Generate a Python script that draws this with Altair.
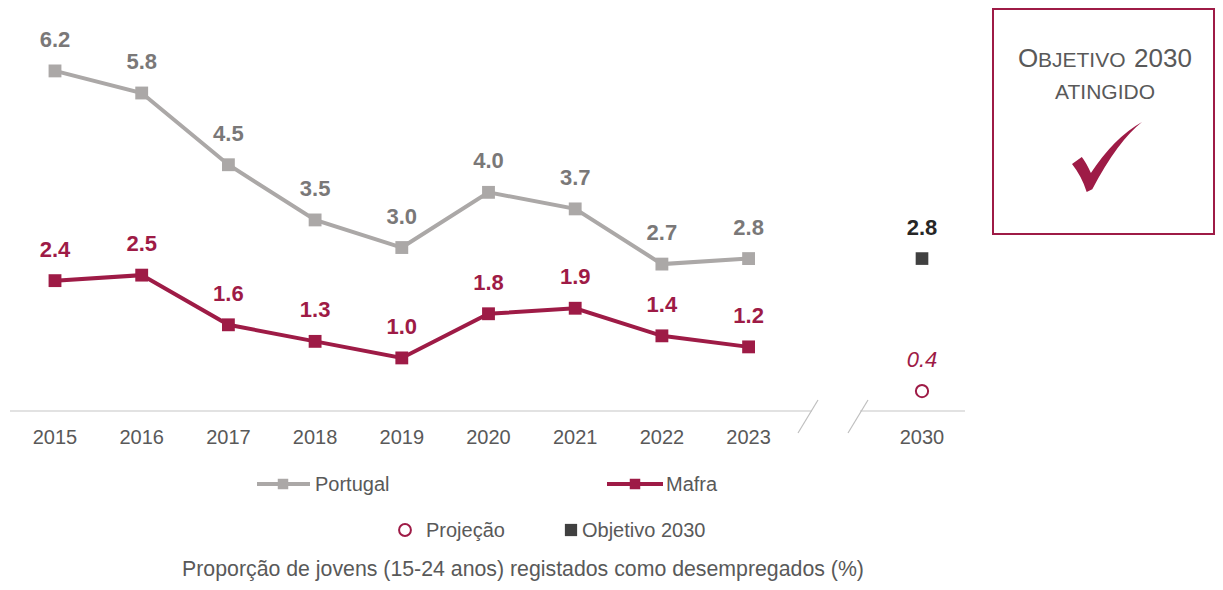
import altair as alt
import pandas as pd

# ---- data ----
years = ["2015", "2016", "2017", "2018", "2019", "2020", "2021", "2022", "2023"]
portugal = [6.2, 5.8, 4.5, 3.5, 3.0, 4.0, 3.7, 2.7, 2.8]
mafra = [2.4, 2.5, 1.6, 1.3, 1.0, 1.8, 1.9, 1.4, 1.2]
target_year = "2030"
projecao = [0.4]
objetivo = [2.8]
gap_slot = " "

FONT = "Liberation Sans"
GREY_LINE = "#ABA8A7"
GREY_LABEL = "#7A7878"
MAFRA = "#9E1B46"
TEXT = "#595959"
DARK = "#404040"

domain = years + [gap_slot, target_year]
xscale = alt.Scale(type="point", domain=domain, range=[47, 914], padding=0)
yscale = alt.Scale(domain=[-3.06, 7.34], nice=False, zero=False)

df_pt = pd.DataFrame({"year": years, "v": portugal})
df_mf = pd.DataFrame({"year": years, "v": mafra})
df_proj = pd.DataFrame({"year": [target_year], "v": projecao})
df_obj = pd.DataFrame({"year": [target_year], "v": objetivo})
df_years = pd.DataFrame({"year": years + [target_year]})

X = alt.X("year:N", scale=xscale, axis=None)
Y = alt.Y("v:Q", scale=yscale, axis=None)

LBL = 22

pt_line = alt.Chart(df_pt).mark_line(color=GREY_LINE, strokeWidth=4).encode(x=X, y=Y)
pt_pts = alt.Chart(df_pt).mark_point(shape="square", filled=True, opacity=1, color=GREY_LINE, size=165).encode(x=X, y=Y)
pt_lbl = alt.Chart(df_pt).mark_text(font=FONT, fontSize=LBL, fontWeight="bold", color=GREY_LABEL, dy=-31).encode(
    x=X, y=Y, text=alt.Text("v:Q", format=".1f"))

mf_line = alt.Chart(df_mf).mark_line(color=MAFRA, strokeWidth=4).encode(x=X, y=Y)
mf_pts = alt.Chart(df_mf).mark_point(shape="square", filled=True, opacity=1, color=MAFRA, size=165).encode(x=X, y=Y)
mf_lbl = alt.Chart(df_mf).mark_text(font=FONT, fontSize=LBL, fontWeight="bold", color=MAFRA, dy=-31).encode(
    x=X, y=Y, text=alt.Text("v:Q", format=".1f"))

proj_pt = alt.Chart(df_proj).mark_point(shape="circle", filled=False, color=MAFRA, strokeWidth=2, size=150, opacity=1).encode(x=X, y=Y)
proj_lbl = alt.Chart(df_proj).mark_text(font=FONT, fontSize=LBL, fontStyle="italic", color=MAFRA, dy=-31).encode(
    x=X, y=Y, text=alt.Text("v:Q", format=".1f"))

obj_pt = alt.Chart(df_obj).mark_point(shape="square", filled=True, color=DARK, size=160, opacity=1).encode(x=X, y=Y)
obj_lbl = alt.Chart(df_obj).mark_text(font=FONT, fontSize=LBL, fontWeight="bold", color="#262626", dy=-31).encode(
    x=X, y=Y, text=alt.Text("v:Q", format=".1f"))

year_lbl = alt.Chart(df_years).mark_text(font=FONT, fontSize=20, color=TEXT, baseline="middle").encode(
    x=X, y=alt.value(430), text="year:N")

one = pd.DataFrame({"k": [0]})
base = alt.Chart(one)

def rule(x1, y1, x2, y2, color, w):
    return base.mark_rule(color=color, strokeWidth=w).encode(
        x=alt.value(x1), y=alt.value(y1), x2=alt.value(x2), y2=alt.value(y2))

def txt(s, x, y, size, color=TEXT, align="left", baseline="middle", weight="normal"):
    return base.mark_text(text=s, font=FONT, fontSize=size, color=color, align=align,
                          baseline=baseline, fontWeight=weight).encode(x=alt.value(x), y=alt.value(y))

axis_parts = [
    rule(2, 403, 804, 403, "#D9D9D9", 1.5),
    rule(852, 403, 957, 403, "#D9D9D9", 1.5),
    rule(810, 392, 790, 425, "#BFBFBF", 1.2),
    rule(860, 392, 840, 425, "#BFBFBF", 1.2),
]

legend_parts = [
    rule(249, 476, 302, 476, GREY_LINE, 4),
    base.mark_point(shape="square", filled=True, color=GREY_LINE, size=110, opacity=1).encode(x=alt.value(275), y=alt.value(476)),
    txt("Portugal", 307, 477, 20),
    rule(599, 476, 655, 476, MAFRA, 4),
    base.mark_point(shape="square", filled=True, color=MAFRA, size=110, opacity=1).encode(x=alt.value(627), y=alt.value(476)),
    txt("Mafra", 658, 477, 20),
    base.mark_point(shape="circle", filled=False, color=MAFRA, strokeWidth=2, size=140, opacity=1).encode(x=alt.value(397), y=alt.value(522)),
    txt("Projeção", 418, 523, 20),
    base.mark_point(shape="square", filled=True, color=DARK, size=150, opacity=1).encode(x=alt.value(563), y=alt.value(522)),
    txt("Objetivo 2030", 574, 523, 20),
    txt("Proporção de jovens (15-24 anos) registados como desempregados (%)", 515, 568, 21.3,
        align="center", baseline="alphabetic"),
]

check_path = ("M -1 0.2 L -0.72 0.0 Q -0.58 0.18 -0.46 0.46 Q 0.2 -0.55 1 -1 "
              "Q 0.3 -0.45 -0.42 0.92 L -0.58 1 Q -0.72 0.55 -1 0.2 Z")

box_parts = [
    base.mark_rect(filled=False, stroke=MAFRA, strokeWidth=2).encode(
        x=alt.value(985), x2=alt.value(1206), y=alt.value(1), y2=alt.value(226)),
    txt("O", 1010, 59, 26, baseline="alphabetic"),
    txt("BJETIVO", 1030, 59, 21, baseline="alphabetic"),
    txt("2030", 1126, 59, 26, baseline="alphabetic"),
    txt("ATINGIDO", 1097, 91, 21, align="center", baseline="alphabetic"),
    base.mark_point(shape=check_path, filled=True, color=MAFRA, size=4900, opacity=1, strokeWidth=0).encode(
        x=alt.value(1099), y=alt.value(149)),
]

chart = alt.layer(
    *axis_parts,
    pt_line, pt_pts, pt_lbl,
    mf_line, mf_pts, mf_lbl,
    proj_pt, proj_lbl, obj_pt, obj_lbl,
    year_lbl,
    *legend_parts,
    *box_parts,
).properties(
    width=1207, height=574, autosize="none", padding=0
).configure_view(strokeOpacity=0)

chart.save("out.html", embed_options={"renderer": "svg", "actions": False})
